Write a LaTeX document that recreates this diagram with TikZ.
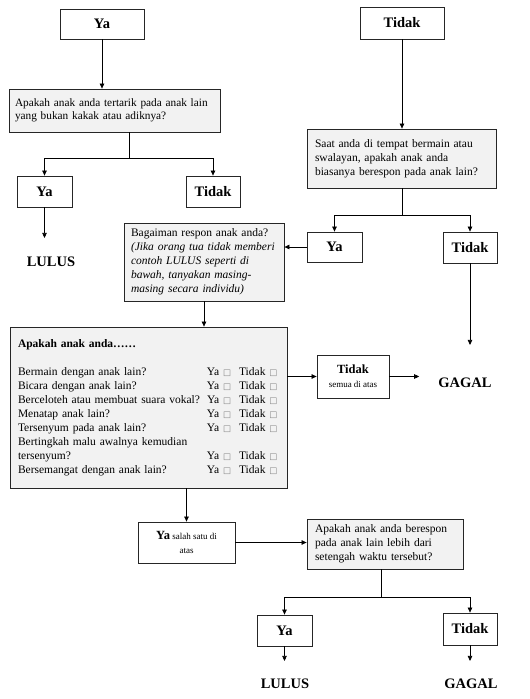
\documentclass[tikz,border=0pt]{standalone}
\usepackage{fontspec}
\setmainfont{Liberation Serif}
\newfontfamily\symfont{DejaVu Sans}
\usetikzlibrary{arrows.meta,shadows,calc}
\newcommand{\cbx}{{\symfont\fontsize{8.5}{8.5}\selectfont\color{black!50}□}}
\begin{document}
\begin{tikzpicture}[x=1pt,y=-1pt,
  box/.style={draw=black!85, line width=0.8pt, fill=white,
    drop shadow={shadow xshift=1.2pt,shadow yshift=-1.2pt,opacity=0.35},
    inner sep=0pt, font=\fontsize{14.5}{16}\selectfont\bfseries},
  qbox/.style={box, fill=black!5, font=\fontsize{11.5}{14}\selectfont,
    align=left, inner xsep=8pt, inner ysep=0pt},
  sbox/.style={box, align=center, font=\fontsize{9}{14}\selectfont},
  res/.style={font=\fontsize{14.5}{16}\selectfont\bfseries, inner sep=0pt},
  arr/.style={-{Triangle[length=5pt,width=4.5pt]}, line width=0.7pt},
  ln/.style={line width=0.7pt}]
\useasboundingbox (0,0) rectangle (530,699);

% top row
\node[box, minimum width=84, minimum height=30] (ya1) at (102,24) {Ya};
\node[box, minimum width=84, minimum height=32] (tidak1) at (402,23) {Tidak};

% left question
\node[qbox, text width=199, inner xsep=6pt, minimum height=43, font=\fontsize{11.3}{13.5}\selectfont] (q1) at (114.5,110.5)
  {Apakah anak anda tertarik pada anak lain\\yang bukan kakak atau adiknya?};
\node[box, minimum width=55, minimum height=31] (ya2) at (44.5,191.5) {Ya};
\node[box, minimum width=54, minimum height=31] (tidak2) at (213,191.5) {Tidak};
\node[res] (lulus1) at (51,262) {LULUS};

% right question
\node[qbox, text width=173, minimum height=59] (q2) at (401.5,158.5)
  {Saat anda di tempat bermain atau\\swalayan, apakah anak anda\\biasanya berespon pada anak lain?};
\node[box, minimum width=55, minimum height=30] (ya3) at (334.5,247) {Ya};
\node[box, minimum width=54, minimum height=31] (tidak3) at (470,247.5) {Tidak};

\node[qbox, text width=146, inner xsep=7pt, minimum height=78] (q3) at (204,262)
  {Bagaiman respon anak anda?\\\itshape (Jika orang tua tidak memberi\\\itshape contoh LULUS seperti di\\\itshape bawah, tanyakan masing-\\\itshape masing secara individu)};

% checklist
\node[qbox, text width=261, minimum height=161] (q4) at (148.5,407.5) {%
  \begin{tabular}{@{}p{189pt}@{}l@{\hspace{8pt}}l@{}}
  \textbf{Apakah anak anda……} & & \\
  & & \\
  Bermain dengan anak lain? & Ya \cbx & Tidak \cbx\\
  Bicara dengan anak lain? & Ya \cbx & Tidak \cbx\\
  Berceloteh atau membuat suara vokal? & Ya \cbx & Tidak \cbx\\
  Menatap anak lain? & Ya \cbx & Tidak \cbx\\
  Tersenyum pada anak lain? & Ya \cbx & Tidak \cbx\\
  Bertingkah malu awalnya kemudian & & \\
  tersenyum? & Ya \cbx & Tidak \cbx\\
  Bersemangat dengan anak lain? & Ya \cbx & Tidak \cbx
  \end{tabular}};

\node[sbox, minimum width=72, minimum height=43] (tidakS) at (353,376.5)
  {{\fontsize{12.5}{14}\selectfont\bfseries Tidak}\\semua di atas};
\node[res] (gagal1) at (465,383) {GAGAL};

\node[sbox, minimum width=97, minimum height=41, font=\fontsize{9}{14}\selectfont] (yaS) at (186.5,542.5)
  {{\fontsize{12.5}{14}\selectfont\bfseries Ya} salah satu di\\atas};

\node[qbox, text width=140, minimum height=50] (q5) at (385,544)
  {Apakah anak anda berespon\\pada anak lain lebih dari\\setengah waktu tersebut?};

\node[box, minimum width=55, minimum height=31] (ya4) at (284.5,630.5) {Ya};
\node[box, minimum width=54, minimum height=32] (tidak4) at (470,629) {Tidak};
\node[res] (lulus2) at (285,684) {LULUS};
\node[res] (gagal2) at (471,684) {GAGAL};

% junctions
\coordinate (j1) at (129,158);
\coordinate (j2) at (402,215);
\coordinate (j3) at (381,597);

% connectors
\draw[arr] (ya1.south) -- (ya1.south |- q1.north);
\draw[ln] (q1.south -| j1) -- (j1);
\draw[arr] (j1) -| (ya2.north);
\draw[arr] (j1) -| (tidak2.north);
\draw[arr, shorten >=19pt] (ya2.south) -- (ya2.south |- lulus1.north);

\draw[arr] (tidak1.south) -- (tidak1.south |- q2.north);
\draw[ln] (q2.south -| j2) -- (j2);
\draw[arr] (j2) -| (ya3.north);
\draw[arr] (j2) -| (tidak3.north);
\draw[arr] (ya3.west) -- (ya3.west -| q3.east);
\draw[arr, shorten >=33pt] (tidak3.south) -- (tidak3.south |- gagal1.north);

\draw[arr] (q3.south) -- (q3.south |- q4.north);
\draw[arr] (tidakS.west -| q4.east) -- (tidakS.west);
\draw[arr, shorten >=19pt] (tidakS.east) -- (tidakS.east -| gagal1.west);
\draw[arr] (yaS.north |- q4.south) -- (yaS.north);
\draw[arr] (yaS.east) -- (yaS.east -| q5.west);

\draw[ln] (q5.south -| j3) -- (j3);
\draw[arr] (j3) -| (ya4.north);
\draw[arr] (j3) -| (tidak4.north);
\draw[arr, shorten >=18pt] (ya4.south) -- (ya4.south |- lulus2.north);
\draw[arr, shorten >=18pt] (tidak4.south) -- (tidak4.south |- gagal2.north);
\end{tikzpicture}
\end{document}
